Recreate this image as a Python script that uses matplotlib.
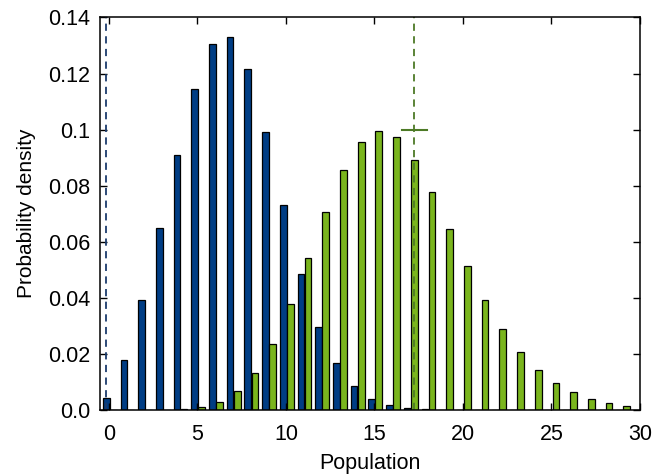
import numpy as np
import matplotlib.pyplot as plt

plt.rcParams['font.family'] = ['Liberation Sans', 'DejaVu Sans']

n = np.arange(0, 30)
p_blue = [0.0043, 0.0177, 0.0391, 0.0650, 0.0910, 0.1145, 0.1305, 0.1330,
          0.1215, 0.0992, 0.0731, 0.0486, 0.0296, 0.0167, 0.0086, 0.0041,
          0.0019, 0.0008, 0.0003, 0.0001, 0, 0, 0, 0, 0, 0, 0, 0, 0, 0]
p_green = [0, 0, 0, 0, 0.0002, 0.0010, 0.0027, 0.0067, 0.0133, 0.0237,
           0.0377, 0.0542, 0.0706, 0.0856, 0.0957, 0.0995, 0.0973, 0.0892,
           0.0777, 0.0645, 0.0513, 0.0391, 0.0290, 0.0206, 0.0143, 0.0095,
           0.0063, 0.0039, 0.0025, 0.0015]
blue_mark = 0
green_mark = 17
green_level = 0.1

yticks = [0, 0.02, 0.04, 0.06, 0.08, 0.1, 0.12, 0.14]
ylabels = ['0.0', '0.02', '0.04', '0.06', '0.08', '0.1', '0.12', '0.14']
xticks = [0, 5, 10, 15, 20, 25, 30]

blue = '#003d84'
green = '#7ab51d'
off_b, off_g, w = -0.15, 0.25, 0.38

fig = plt.figure(figsize=(6.67, 4.74), dpi=100)
ax = fig.add_axes([100/667, 1-410/474, 540/667, 392.5/474])

ax.bar(n + off_b, p_blue, width=w, color=blue, edgecolor='black', linewidth=0.9)
ax.bar(n + off_g, p_green, width=w, color=green, edgecolor='black', linewidth=0.9)

ax.axvline(blue_mark + off_b, color='#1c3c6c', ls=(0, (4, 3)), lw=1.3)
ax.axvline(green_mark + off_g, color='#4d7a26', ls=(0, (4, 3)), lw=1.3)
ax.plot([green_mark + off_g - 0.7, green_mark + off_g + 0.7],
        [green_level, green_level], color='#4d7a26', lw=1.5)

ax.set_xlim(-0.5, 30)
ax.set_ylim(0, 0.14)
ax.set_xticks(xticks)
ax.set_yticks(yticks)
ax.set_yticklabels(ylabels)
ax.tick_params(direction='in', top=True, right=True, labelsize=15.5,
               length=5, width=1)
ax.tick_params(axis='x', pad=10)
ax.tick_params(axis='y', pad=7)
for s in ax.spines.values():
    s.set_linewidth(1.1)
ax.set_xlabel('Population', fontsize=15.5, labelpad=6)
ax.set_ylabel('Probability density', fontsize=15, labelpad=9)

fig.savefig('out.png', dpi=100)
